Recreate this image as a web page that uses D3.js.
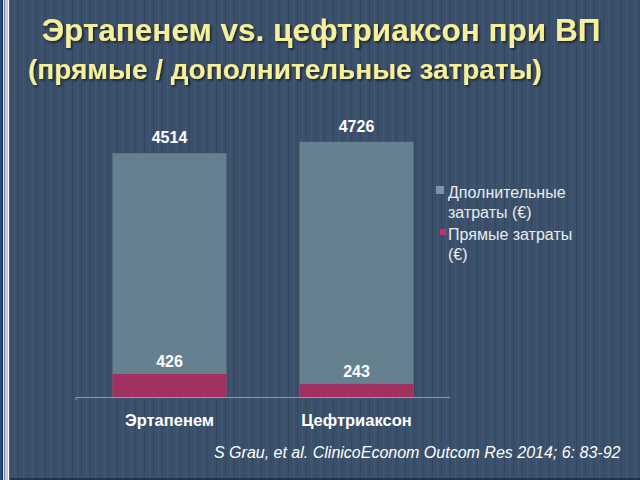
<!DOCTYPE html>
<head>
<meta charset="utf-8">
<style>
  body { margin: 0; background: #3b506b; }
  svg { display: block; font-family: "Liberation Sans", Arial, sans-serif; }
  .title { fill: #f6f09a; font-weight: bold; }
  .val { fill: #ffffff; font-weight: bold; font-size: 16px; text-anchor: middle; }
  .cat { fill: #ffffff; font-weight: bold; font-size: 16.5px; text-anchor: middle; }
  .legend { fill: #e8edf3; font-size: 16px; }
</style>
</head>
<body>
<script src="https://d3js.org/d3.v7.min.js"></script>
<script>
// chart data
var categories = ["Эртапенем", "Цефтриаксон"];
var extraCosts = [4514, 4726];   // дополнительные затраты (€)
var directCosts = [426, 243];    // прямые затраты (€)
var legendLabels = [["Дполнительные", "затраты (€)"], ["Прямые затраты", "(€)"]];

var W = 640, H = 480;

var svg = d3.select("body").append("svg")
    .attr("width", W)
    .attr("height", H);

// background with thin vertical stripes
var defs = svg.append("defs");
var pat = defs.append("pattern")
    .attr("id", "stripes")
    .attr("patternUnits", "userSpaceOnUse")
    .attr("width", 9).attr("height", 10);
pat.append("rect").attr("width", 9).attr("height", 10).attr("fill", "#3b506b");
pat.append("rect").attr("x", 0).attr("width", 1).attr("height", 10).attr("fill", "#34475f");
pat.append("rect").attr("x", 5).attr("width", 1).attr("height", 10).attr("fill", "#415773");

var sh = defs.append("filter").attr("id", "shadow");
sh.append("feDropShadow").attr("dx", 1.5).attr("dy", 1.5).attr("stdDeviation", 0.8)
  .attr("flood-color", "#000").attr("flood-opacity", 0.6);

svg.append("rect").attr("width", W).attr("height", H).attr("fill", "url(#stripes)");
svg.append("rect").attr("x", 0).attr("y", H - 2).attr("width", W).attr("height", 2).attr("fill", "#24344a");

// left edge border strips
var edge = [[0, 2, "#1f4a8a"], [2, 1, "#1d2a45"], [3, 1, "#e0e8f8"], [4, 1, "#7a8496"],
            [5, 3, "#bccbe8"], [8, 1, "#ffffff"], [9, 1, "#4a5c90"]];
edge.forEach(function(e) {
  svg.append("rect").attr("x", e[0]).attr("y", 0).attr("width", e[1]).attr("height", H).attr("fill", e[2]);
});

// titles
svg.append("text").attr("class", "title")
    .attr("x", 321).attr("y", 41)
    .attr("text-anchor", "middle")
    .style("font-size", "31.5px")
    .attr("filter", "url(#shadow)")
    .text("Эртапенем vs. цефтриаксон при ВП");
svg.append("text").attr("class", "title")
    .attr("x", 28).attr("y", 79)
    .style("font-size", "28px")
    .attr("filter", "url(#shadow)")
    .text("(прямые / дополнительные затраты)");

// scales
var x = d3.scaleBand().domain(categories).range([76, 450]).paddingInner(0.39).paddingOuter(0.195);
var y = d3.scaleLinear().domain([0, 6000]).range([397, 73]);

// additional costs (back)
svg.selectAll(".extra").data(extraCosts).enter().append("rect")
    .attr("x", function(d, i) { return x(categories[i]); })
    .attr("y", function(d) { return y(d); })
    .attr("width", x.bandwidth())
    .attr("height", function(d) { return y(0) - y(d); })
    .attr("fill", "#65818f");

// direct costs (front)
svg.selectAll(".direct").data(directCosts).enter().append("rect")
    .attr("x", function(d, i) { return x(categories[i]); })
    .attr("y", function(d) { return y(d); })
    .attr("width", x.bandwidth())
    .attr("height", function(d) { return y(0) - y(d); })
    .attr("fill", "#a1325f");

// value labels
svg.selectAll(".vExtra").data(extraCosts).enter().append("text")
    .attr("class", "val")
    .attr("x", function(d, i) { return x(categories[i]) + x.bandwidth() / 2; })
    .attr("y", function(d) { return y(d) - 10; })
    .text(function(d) { return d; });
svg.selectAll(".vDirect").data(directCosts).enter().append("text")
    .attr("class", "val")
    .attr("x", function(d, i) { return x(categories[i]) + x.bandwidth() / 2; })
    .attr("y", function(d) { return y(d) - 7; })
    .text(function(d) { return d; });

// x axis
var ax = svg.append("g")
    .attr("transform", "translate(0," + y(0) + ")")
    .call(d3.axisBottom(x).tickSize(0).tickPadding(17));
ax.select(".domain").attr("stroke", "#8a9ab0").attr("d", "M76,3V0.5H450");
ax.selectAll("text").attr("class", "cat").attr("font-family", null).attr("font-size", null);

// legend
var lg = svg.append("g").attr("transform", "translate(436,0)");
lg.append("rect").attr("x", 0).attr("y", 186).attr("width", 8).attr("height", 8).attr("fill", "#7d96a6");
lg.append("rect").attr("x", 4).attr("y", 229).attr("width", 6).attr("height", 6).attr("fill", "#c0306a");
legendLabels.forEach(function(lines, i) {
  lines.forEach(function(t, j) {
    lg.append("text").attr("class", "legend")
      .attr("x", 12).attr("y", 198 + i * 42 + j * 20)
      .text(t);
  });
});

// source
svg.append("text")
    .attr("x", 214).attr("y", 458)
    .attr("fill", "#ffffff")
    .style("font-size", "16px")
    .style("font-style", "italic")
    .text("S Grau, et al. ClinicoEconom Outcom Res 2014; 6: 83-92");
</script>
</body>
